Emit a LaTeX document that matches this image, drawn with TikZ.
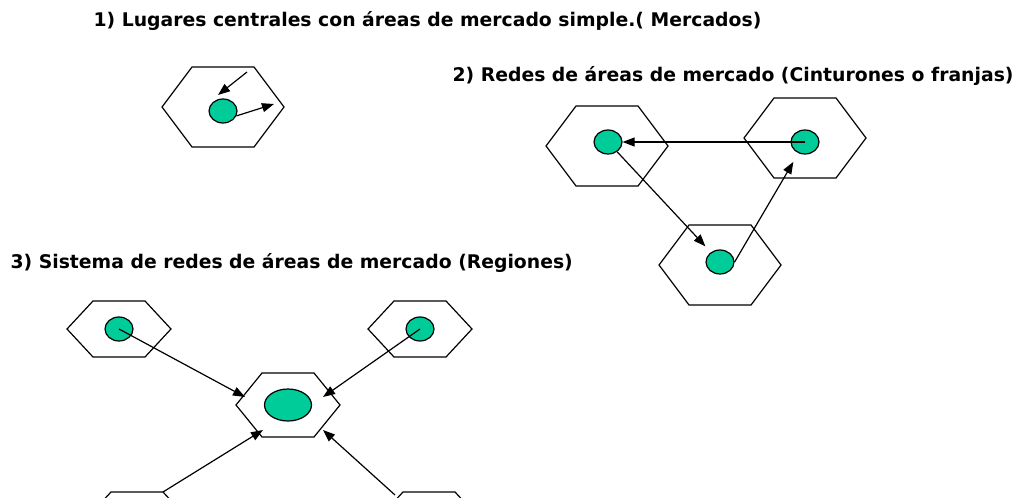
\documentclass[tikz,border=0pt]{standalone}
\usepackage{fontspec}
\setmainfont{DejaVu Sans}
\usetikzlibrary{arrows.meta,shapes.geometric}
\definecolor{placegreen}{RGB}{0,204,153}

\begin{document}
\begin{tikzpicture}[x=0.5pt,y=-0.5pt,line width=0.6pt,
    >={Triangle[length=6pt,width=4.5pt]},
    place/.style={ellipse,draw,fill=placegreen,minimum width=14pt,
      minimum height=12pt,inner sep=0pt},
    bigplace/.style={place,minimum width=23.5pt,minimum height=16pt},
    title/.style={anchor=base west,inner sep=0pt,
      font=\bfseries\fontsize{9.4}{11}\selectfont},
    hexbig/.pic={\draw (-61,0) -- (-31,-40) -- (31,-40) -- (61,0)
      -- (31,40) -- (-31,40) -- cycle;},
    hexsmall/.pic={\draw (-52,0) -- (-26,-28) -- (26,-28) -- (52,0)
      -- (26,28) -- (-26,28) -- cycle;
      \coordinate (-ne) at (26,-28);
      \coordinate (-in) at (-34,-25);},
    hexmid/.pic={\draw (-52,0) -- (-26,-32) -- (26,-32) -- (52,0)
      -- (26,32) -- (-26,32) -- cycle;
      \coordinate (-a) at (-43,-8);
      \coordinate (-b) at (35,-8);
      \coordinate (-c) at (-25,25);
      \coordinate (-d) at (35,25);}]
    \useasboundingbox (0,0) rectangle (1026,497);
    \clip (0,0) rectangle (1026,497);

    % titles
    \node[title] (t1) at (93,27) {1) Lugares centrales con áreas de mercado simple.( Mercados)};
    \node[title] (t2) at (452,82) {2) Redes de áreas de mercado (Cinturones o franjas)};
    \node[title] (t3) at (10,268) {3) Sistema de redes de áreas de mercado (Regiones)};

    % 1) mercados
    \pic (h1) at (223,107) {hexbig};
    \node[place] (m1) at (223,111) {};
    \coordinate (m1a) at (247,72);
    \coordinate (m1b) at (274,104);
    \draw[->] (m1a) -- (218,95);
    \draw[->] (m1.-20) -- (m1b);

    % 2) cinturones
    \pic (hl) at (607,146) {hexbig};
    \pic (hr) at (805,138) {hexbig};
    \pic (hb) at (720,265) {hexbig};
    \node[place] (cl) at (608,142) {};
    \node[place] (cr) at (805,142) {};
    \node[place] (cb) at (720,262) {};
    \draw[->] (cr.center) -- (cl);
    \draw[->,shorten >=4pt] (cl) -- (cb);
    \draw[->,shorten >=5pt] (cb.east) -- (cr);

    % 3) regiones
    \pic (htl) at (119,329) {hexsmall};
    \pic (htr) at (420,329) {hexsmall};
    \pic (hc) at (288,405) {hexmid};
    \pic (hbl) at (137,520) {hexsmall};
    \pic (hbr) at (429,520) {hexsmall};
    \node[place] (rtl) at (119,329) {};
    \node[place] (rtr) at (420,329) {};
    \node[bigplace] (rc) at (288,405) {};
    \draw[->] (rtl.center) -- (hc-a);
    \draw[->] (rtr.center) -- (hc-b);
    \draw[->] (hbl-ne) -- (hc-c);
    \draw[->] (hbr-in) -- (hc-d);
\end{tikzpicture}
\end{document}
